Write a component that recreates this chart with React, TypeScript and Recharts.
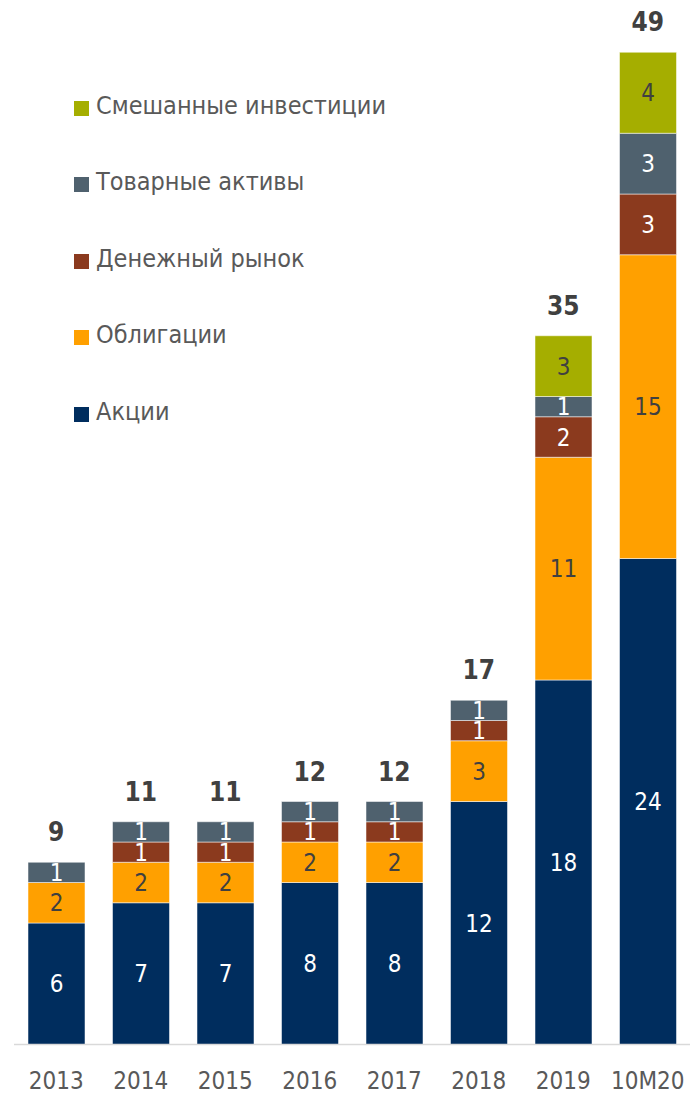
import React from 'react';
import { ComposedChart, Bar, Line, XAxis, YAxis, LabelList } from 'recharts';

const years: string[] = ['2013', '2014', '2015', '2016', '2017', '2018', '2019', '10M20'];
const stocks: number[] = [6, 7, 7, 8, 8, 12, 18, 24];
const bonds: number[] = [2, 2, 2, 2, 2, 3, 11, 15];
const money: number[] = [0, 1, 1, 1, 1, 1, 2, 3];
const commodities: number[] = [1, 1, 1, 1, 1, 1, 1, 3];
const mixed: number[] = [0, 0, 0, 0, 0, 0, 3, 4];
const totals: number[] = [9, 11, 11, 12, 12, 17, 35, 49];

const series = [
  { key: 'stocks', name: 'Акции', color: '#002D5E', text: '#ffffff' },
  { key: 'bonds', name: 'Облигации', color: '#FFA000', text: '#404040' },
  { key: 'money', name: 'Денежный рынок', color: '#8B3A1E', text: '#ffffff' },
  { key: 'commodities', name: 'Товарные активы', color: '#4F616E', text: '#ffffff' },
  { key: 'mixed', name: 'Смешанные инвестиции', color: '#A5AE00', text: '#404040' },
];

const data = years.map((year, i) => ({
  year,
  stocks: stocks[i],
  bonds: bonds[i],
  money: money[i],
  commodities: commodities[i],
  mixed: mixed[i],
  total: totals[i],
}));

const FONT = '"DejaVu Sans Condensed", "DejaVu Sans", sans-serif';

const YearTick = (props: any) => {
  const { x, y, payload } = props;
  return (
    <text x={x} y={y + 28} textAnchor="middle" dominantBaseline="central" fill="#595959" fontSize={24} fontFamily={FONT}>
      {payload.value}
    </text>
  );
};

const TotalLabel = (props: any) => {
  const { x, y, value } = props;
  return (
    <text x={x} y={y - 30} textAnchor="middle" dominantBaseline="central" fill="#404040" fontSize={26} fontWeight="bold" fontFamily={FONT}>
      {value}
    </text>
  );
};

const LegendBox = () => (
  <div style={{ position: 'absolute', left: 74, top: 67, fontFamily: FONT }}>
    {[...series].reverse().map((s) => (
      <div key={s.key} style={{ display: 'flex', alignItems: 'center', height: 76.5 }}>
        <span style={{ width: 15, height: 15, background: s.color, display: 'inline-block', marginRight: 7, marginTop: 6 }} />
        <span style={{ color: '#595959', fontSize: 25, whiteSpace: 'nowrap' }}>{s.name}</span>
      </div>
    ))}
  </div>
);

export default function App() {
  return (
    <div style={{ position: 'absolute', left: 0, top: 0, width: 692, height: 1094 }}>
      <ComposedChart width={692} height={1094} data={data} margin={{ top: 32, right: 2, bottom: 10, left: 14 }} barSize={57}>
        <XAxis dataKey="year" height={39.5} axisLine={{ stroke: '#d9d9d9', strokeWidth: 1.5 }} tickLine={false} tick={<YearTick />} interval={0} />
        <YAxis hide domain={[0, 50]} />
        {series.map((s) => (
          <Bar key={s.key} dataKey={s.key} name={s.name} stackId="a" fill={s.color} stroke="#ffffff" strokeOpacity={0.5} strokeWidth={1} isAnimationActive={false}>
            <LabelList
              dataKey={s.key}
              position="center"
              fill={s.text}
              fontSize={24}
              fontFamily={FONT}
              formatter={(v: any) => (v ? v : '')}
            />
          </Bar>
        ))}
        <Line dataKey="total" stroke="none" dot={false} activeDot={false} legendType="none" isAnimationActive={false}>
          <LabelList dataKey="total" content={<TotalLabel />} />
        </Line>
      </ComposedChart>
      <LegendBox />
    </div>
  );
}
